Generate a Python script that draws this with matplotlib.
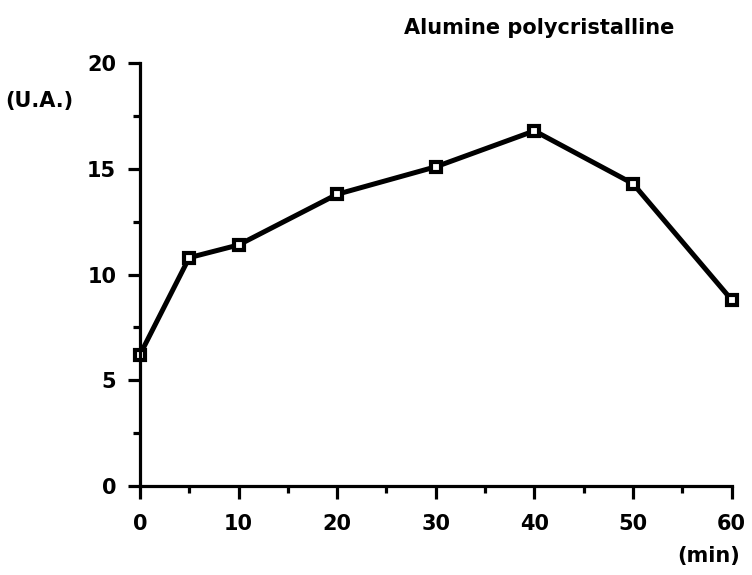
import matplotlib.pyplot as plt
from matplotlib.ticker import MultipleLocator

plt.rcParams['font.family'] = ['DejaVu Sans']
plt.rcParams['font.weight'] = 'bold'

# temps de traitement (min) et intensite (U.A.)
temps = [0, 5, 10, 20, 30, 40, 50, 60]
intensite = [6.2, 10.8, 11.4, 13.8, 15.1, 16.8, 14.3, 8.8]

fig = plt.figure(figsize=(7.52, 5.75), dpi=100)
ax = fig.add_axes([0.186, 0.155, 0.787, 0.735])

ax.plot(temps, intensite, color='black', linewidth=3.6,
        marker='s', markersize=6.5, markerfacecolor='white',
        markeredgecolor='black', markeredgewidth=3.0, clip_on=False)

ax.set_xlim(0, 60)
ax.set_ylim(0, 20)
ax.xaxis.set_major_locator(MultipleLocator(10))
ax.xaxis.set_minor_locator(MultipleLocator(5))
ax.yaxis.set_major_locator(MultipleLocator(5))
ax.yaxis.set_minor_locator(MultipleLocator(2.5))

for side in ['top', 'right']:
    ax.spines[side].set_visible(False)
for side in ['left', 'bottom']:
    ax.spines[side].set_linewidth(2.3)

ax.tick_params(which='major', direction='out', length=9, width=2.3,
               labelsize=15)
ax.tick_params(axis='x', which='major', pad=11)
ax.tick_params(axis='y', which='major', pad=8)
ax.tick_params(which='minor', direction='out', length=5, width=2.3)
for lab in ax.get_xticklabels() + ax.get_yticklabels():
    lab.set_fontweight('bold')

fig.text(0.537, 0.951, 'Alumine polycristalline', fontsize=15,
         fontweight='bold', ha='left', va='center')
fig.text(0.007, 0.825, '(U.A.)', fontsize=15, fontweight='bold',
         ha='left', va='center')
fig.text(0.984, 0.033, '(min)', fontsize=15, fontweight='bold',
         ha='right', va='center')

fig.savefig('out.png', dpi=100)
